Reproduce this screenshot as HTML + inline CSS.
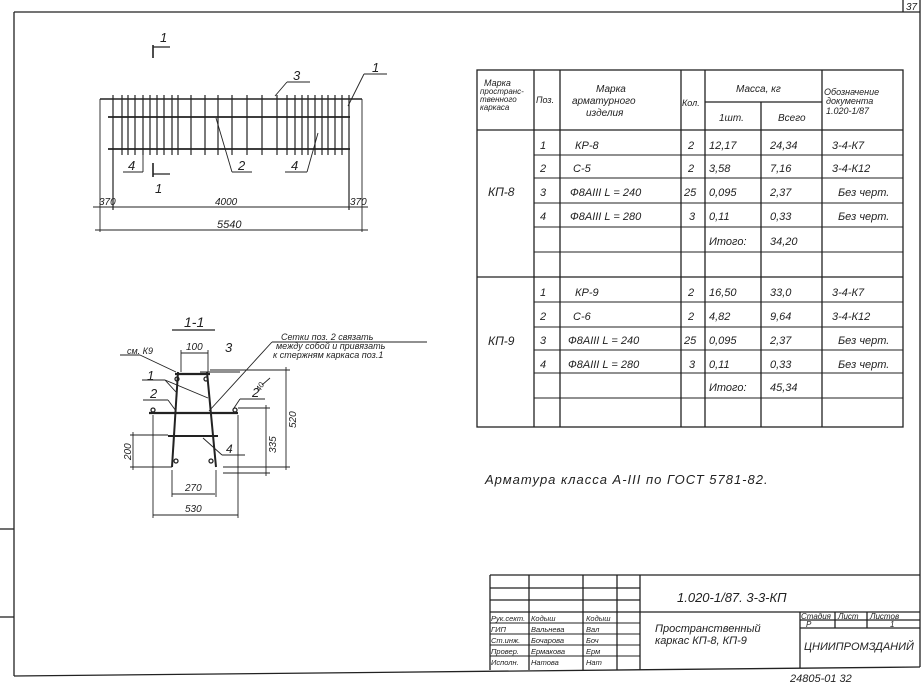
<!DOCTYPE html>
<html><head><meta charset="utf-8"><style>
html,body{margin:0;padding:0;background:#fff;}
svg{display:block}
text{font-family:"Liberation Sans","DejaVu Sans",sans-serif;font-style:italic;fill:#222;}
</style></head><body>
<svg width="923" height="682" viewBox="0 0 923 682" xmlns="http://www.w3.org/2000/svg">
<g stroke="#222" stroke-width="1.3" fill="none">
<!-- frame -->
<line x1="14" y1="12" x2="14" y2="676"/>
<line x1="14" y1="12" x2="920" y2="12"/>
<line x1="920" y1="0" x2="920" y2="667"/>
<line x1="14" y1="676" x2="920" y2="667"/>
<line x1="0" y1="529" x2="14" y2="529"/>
<line x1="0" y1="617" x2="14" y2="617"/>
<line x1="903" y1="0" x2="903" y2="12"/>

<!-- table -->
<rect x="477" y="70" width="426" height="357"/>
<line x1="534" y1="70" x2="534" y2="427"/>
<line x1="560" y1="70" x2="560" y2="427"/>
<line x1="681" y1="70" x2="681" y2="427"/>
<line x1="705" y1="70" x2="705" y2="427"/>
<line x1="761" y1="102" x2="761" y2="427"/>
<line x1="822" y1="70" x2="822" y2="427"/>
<line x1="705" y1="102" x2="822" y2="102"/>
<line x1="477" y1="130" x2="903" y2="130"/>
<line x1="477" y1="277" x2="903" y2="277"/>
<g stroke-width="1">
<line x1="534" y1="155" x2="903" y2="155"/>
<line x1="534" y1="178" x2="903" y2="178"/>
<line x1="534" y1="203" x2="903" y2="203"/>
<line x1="534" y1="227" x2="903" y2="227"/>
<line x1="534" y1="252" x2="903" y2="252"/>
<line x1="534" y1="302" x2="903" y2="302"/>
<line x1="534" y1="327" x2="903" y2="327"/>
<line x1="534" y1="350" x2="903" y2="350"/>
<line x1="534" y1="373" x2="903" y2="373"/>
<line x1="534" y1="398" x2="903" y2="398"/>
</g>

<!-- title block -->
<line x1="490" y1="575" x2="920" y2="575"/>
<line x1="490" y1="575" x2="490" y2="670"/>
<line x1="529" y1="575" x2="529" y2="670"/>
<line x1="583" y1="575" x2="583" y2="670"/>
<line x1="617" y1="575" x2="617" y2="670"/>
<line x1="640" y1="575" x2="640" y2="670"/>
<line x1="490" y1="588" x2="640" y2="588"/>
<line x1="490" y1="600" x2="640" y2="600"/>
<line x1="490" y1="612" x2="920" y2="612"/>
<g stroke-width="1">
<line x1="490" y1="623" x2="640" y2="623"/>
<line x1="490" y1="634" x2="640" y2="634"/>
<line x1="490" y1="645" x2="640" y2="645"/>
<line x1="490" y1="656" x2="640" y2="656"/>
</g>
<line x1="800" y1="612" x2="800" y2="668"/>
<line x1="835" y1="612" x2="835" y2="628"/>
<line x1="867" y1="612" x2="867" y2="628"/>
<line x1="800" y1="620" x2="920" y2="620"/>
<line x1="800" y1="628" x2="920" y2="628"/>

<!-- elevation -->
<line x1="100" y1="99" x2="362" y2="99" stroke-width="1.6"/>
<line x1="108" y1="117" x2="350" y2="117" stroke-width="1.8"/>
<line x1="108" y1="149" x2="350" y2="149" stroke-width="1.8"/>
<g stroke-width="1.2">
<line x1="113" y1="95" x2="113" y2="210"/>
<line x1="122" y1="95" x2="122" y2="155"/>
<line x1="128" y1="95" x2="128" y2="155"/>
<line x1="135" y1="95" x2="135" y2="155"/>
<line x1="143" y1="95" x2="143" y2="155"/>
<line x1="150" y1="95" x2="150" y2="155"/>
<line x1="157" y1="95" x2="157" y2="155"/>
<line x1="164" y1="95" x2="164" y2="155"/>
<line x1="172" y1="95" x2="172" y2="155"/>
<line x1="178" y1="95" x2="178" y2="155"/>
<line x1="191" y1="95" x2="191" y2="155"/>
<line x1="205" y1="95" x2="205" y2="155"/>
<line x1="218" y1="95" x2="218" y2="155"/>
<line x1="232" y1="95" x2="232" y2="155"/>
<line x1="247" y1="95" x2="247" y2="155"/>
<line x1="262" y1="95" x2="262" y2="155"/>
<line x1="277" y1="95" x2="277" y2="155"/>
<line x1="287" y1="95" x2="287" y2="155"/>
<line x1="295" y1="95" x2="295" y2="155"/>
<line x1="302" y1="95" x2="302" y2="155"/>
<line x1="308" y1="95" x2="308" y2="155"/>
<line x1="315" y1="95" x2="315" y2="155"/>
<line x1="322" y1="95" x2="322" y2="155"/>
<line x1="328" y1="95" x2="328" y2="155"/>
<line x1="335" y1="95" x2="335" y2="155"/>
<line x1="342" y1="95" x2="342" y2="155"/>
<line x1="349" y1="95" x2="349" y2="210"/>
</g>
<g stroke-width="0.9">
<line x1="100" y1="99" x2="100" y2="232"/>
<line x1="362" y1="99" x2="362" y2="232"/>
<line x1="93" y1="207" x2="368" y2="207"/>
<line x1="95" y1="230" x2="368" y2="230"/>
<line x1="287" y1="82" x2="310" y2="82"/><line x1="287" y1="82" x2="275" y2="96"/>
<line x1="364" y1="74" x2="387" y2="74"/><line x1="364" y1="74" x2="348" y2="106"/>
<line x1="123" y1="172" x2="143" y2="172"/><line x1="143" y1="172" x2="143" y2="133"/>
<line x1="232" y1="172" x2="252" y2="172"/><line x1="232" y1="172" x2="216" y2="118"/>
<line x1="285" y1="172" x2="307" y2="172"/><line x1="307" y1="172" x2="318" y2="133"/>
</g>
<line x1="153" y1="45" x2="153" y2="58" stroke-width="1.6"/>
<line x1="153" y1="47" x2="170" y2="47"/>
<line x1="153" y1="163" x2="153" y2="177" stroke-width="1.6"/>
<line x1="153" y1="174" x2="170" y2="174"/>

<!-- section 1-1 -->
<line x1="172" y1="330" x2="215" y2="330"/>
<line x1="175" y1="374" x2="210" y2="374" stroke-width="2.2"/>
<line x1="149" y1="413" x2="238" y2="413" stroke-width="2.2"/>
<line x1="168" y1="436" x2="218" y2="436" stroke-width="2"/>
<line x1="178" y1="372" x2="172" y2="467" stroke-width="2"/>
<line x1="207" y1="372" x2="216" y2="467" stroke-width="2"/>
<circle cx="177" cy="379" r="2"/><circle cx="206" cy="379" r="2"/>
<circle cx="153" cy="410" r="2"/><circle cx="235" cy="410" r="2"/>
<circle cx="176" cy="461" r="2"/><circle cx="211" cy="461" r="2"/>
<g stroke-width="0.9">
<line x1="181" y1="353" x2="208" y2="353"/>
<line x1="181" y1="350" x2="181" y2="372"/><line x1="208" y1="350" x2="208" y2="372"/>
<line x1="172" y1="470" x2="172" y2="497"/><line x1="216" y1="470" x2="216" y2="497"/>
<line x1="172" y1="494" x2="215" y2="494"/>
<line x1="153" y1="415" x2="153" y2="518"/><line x1="238" y1="415" x2="238" y2="518"/>
<line x1="153" y1="515" x2="238" y2="515"/>
<line x1="210" y1="370" x2="290" y2="370"/>
<line x1="223" y1="467" x2="290" y2="467"/>
<line x1="286" y1="367" x2="286" y2="470"/>
<line x1="238" y1="408" x2="270" y2="408"/>
<line x1="223" y1="473" x2="270" y2="473"/>
<line x1="266" y1="405" x2="266" y2="476"/>
<line x1="130" y1="435" x2="168" y2="435"/>
<line x1="130" y1="467" x2="172" y2="467"/>
<line x1="133" y1="432" x2="133" y2="470"/>
<line x1="120" y1="355" x2="140" y2="355"/><line x1="140" y1="355" x2="176" y2="372"/>
<line x1="200" y1="372" x2="240" y2="372"/>
<line x1="142" y1="380" x2="165" y2="380"/><line x1="165" y1="380" x2="208" y2="398"/><line x1="165" y1="380" x2="176" y2="392"/>
<line x1="143" y1="400" x2="168" y2="400"/><line x1="168" y1="400" x2="176" y2="411"/>
<line x1="240" y1="399" x2="265" y2="399"/><line x1="240" y1="399" x2="234" y2="408"/>
<line x1="222" y1="455" x2="245" y2="455"/><line x1="222" y1="455" x2="203" y2="438"/>
<line x1="272" y1="342" x2="427" y2="342"/><line x1="272" y1="342" x2="209" y2="411"/>
<line x1="262" y1="385" x2="270" y2="378"/>
</g>
</g>

<!-- texts -->
<g font-size="11">
<text x="906" y="10" font-size="10">37</text>
<text x="484" y="86" font-size="9">Марка</text>
<text x="480" y="94" font-size="8">пространс-</text>
<text x="480" y="102" font-size="8">твенного</text>
<text x="480" y="110" font-size="8">каркаса</text>
<text x="536" y="103" font-size="9">Поз.</text>
<text x="596" y="92" font-size="10">Марка</text>
<text x="572" y="104" font-size="10">арматурного</text>
<text x="586" y="116" font-size="10">изделия</text>
<text x="682" y="106" font-size="9">Кол.</text>
<text x="736" y="92" font-size="10">Масса, кг</text>
<text x="719" y="121" font-size="10">1шт.</text>
<text x="778" y="121" font-size="10">Всего</text>
<text x="824" y="95" font-size="9">Обозначение</text>
<text x="826" y="104" font-size="9">документа</text>
<text x="826" y="114" font-size="9">1.020-1/87</text>

<text x="488" y="196" font-size="12">КП-8</text>
<text x="488" y="345" font-size="12">КП-9</text>

<text x="540" y="149">1</text><text x="575" y="149">КР-8</text><text x="688" y="149">2</text><text x="709" y="149">12,17</text><text x="770" y="149">24,34</text><text x="832" y="149">3-4-К7</text>
<text x="540" y="172">2</text><text x="573" y="172">С-5</text><text x="688" y="172">2</text><text x="709" y="172">3,58</text><text x="770" y="172">7,16</text><text x="832" y="172">3-4-К12</text>
<text x="540" y="196">3</text><text x="570" y="196">Ф8АIII  L = 240</text><text x="684" y="196">25</text><text x="709" y="196">0,095</text><text x="770" y="196">2,37</text><text x="838" y="196">Без черт.</text>
<text x="540" y="220">4</text><text x="570" y="220">Ф8АIII L = 280</text><text x="689" y="220">3</text><text x="709" y="220">0,11</text><text x="770" y="220">0,33</text><text x="838" y="220">Без черт.</text>
<text x="709" y="245">Итого:</text><text x="770" y="245">34,20</text>

<text x="540" y="296">1</text><text x="575" y="296">КР-9</text><text x="688" y="296">2</text><text x="709" y="296">16,50</text><text x="770" y="296">33,0</text><text x="832" y="296">3-4-К7</text>
<text x="540" y="320">2</text><text x="573" y="320">С-6</text><text x="688" y="320">2</text><text x="709" y="320">4,82</text><text x="770" y="320">9,64</text><text x="832" y="320">3-4-К12</text>
<text x="540" y="344">3</text><text x="568" y="344">Ф8АIII  L = 240</text><text x="684" y="344">25</text><text x="709" y="344">0,095</text><text x="770" y="344">2,37</text><text x="838" y="344">Без черт.</text>
<text x="540" y="368">4</text><text x="568" y="368">Ф8АIII  L = 280</text><text x="689" y="368">3</text><text x="709" y="368">0,11</text><text x="770" y="368">0,33</text><text x="838" y="368">Без черт.</text>
<text x="709" y="391">Итого:</text><text x="770" y="391">45,34</text>

<text x="485" y="484" font-size="13" letter-spacing="1">Арматура класса А-III по ГОСТ 5781-82.</text>

<text x="677" y="602" font-size="13">1.020-1/87. 3-3-КП</text>
<text x="655" y="632" font-size="11">Пространственный</text>
<text x="655" y="644" font-size="11">каркас  КП-8, КП-9</text>
<text x="801" y="619" font-size="8">Стадия</text><text x="838" y="619" font-size="8">Лист</text><text x="870" y="619" font-size="8">Листов</text>
<text x="806" y="627" font-size="8">Р</text><text x="890" y="627" font-size="8">1</text>
<text x="804" y="650" font-size="11">ЦНИИПРОМЗДАНИЙ</text>
<g font-size="7.5">
<text x="491" y="621">Рук.сект.</text><text x="531" y="621">Кодыш</text>
<text x="491" y="632">ГИП</text><text x="531" y="632">Вальнева</text>
<text x="491" y="643">Ст.инж.</text><text x="531" y="643">Бочарова</text>
<text x="491" y="654">Провер.</text><text x="531" y="654">Ермакова</text>
<text x="491" y="665">Исполн.</text><text x="531" y="665">Натова</text>
<text x="586" y="621">Кодыш</text><text x="586" y="632">Вал</text><text x="586" y="643">Боч</text><text x="586" y="654">Ерм</text><text x="586" y="665">Нат</text>
</g>
<text x="790" y="682" font-size="11">24805-01    32</text>

<text x="160" y="42" font-size="13">1</text>
<text x="155" y="193" font-size="13">1</text>
<text x="293" y="80" font-size="13">3</text>
<text x="372" y="72" font-size="13">1</text>
<text x="128" y="170" font-size="13">4</text>
<text x="238" y="170" font-size="13">2</text>
<text x="291" y="170" font-size="13">4</text>
<text x="99" y="205" font-size="10">370</text>
<text x="215" y="205" font-size="10">4000</text>
<text x="350" y="205" font-size="10">370</text>
<text x="217" y="228" font-size="11">5540</text>

<text x="184" y="327" font-size="14">1-1</text>
<text x="127" y="354" font-size="9">см. К9</text>
<text x="186" y="350" font-size="10">100</text>
<text x="225" y="352" font-size="13">3</text>
<text x="147" y="380" font-size="13">1</text>
<text x="150" y="398" font-size="13">2</text>
<text x="252" y="397" font-size="13">2</text>
<text x="226" y="453" font-size="12">4</text>
<text x="185" y="491" font-size="10">270</text>
<text x="185" y="512" font-size="10">530</text>
<text x="281" y="340" font-size="9">Сетки поз. 2 связать</text>
<text x="276" y="349" font-size="9">между собой и привязать</text>
<text x="273" y="358" font-size="9">к стержням каркаса поз.1</text>
<text transform="translate(296,428) rotate(-90)" font-size="10">520</text>
<text transform="translate(276,453) rotate(-90)" font-size="10">335</text>
<text transform="translate(131,460) rotate(-90)" font-size="10">200</text>
<text transform="translate(260,392) rotate(-60)" font-size="8">40</text>
</g>
</svg>
</body></html>
